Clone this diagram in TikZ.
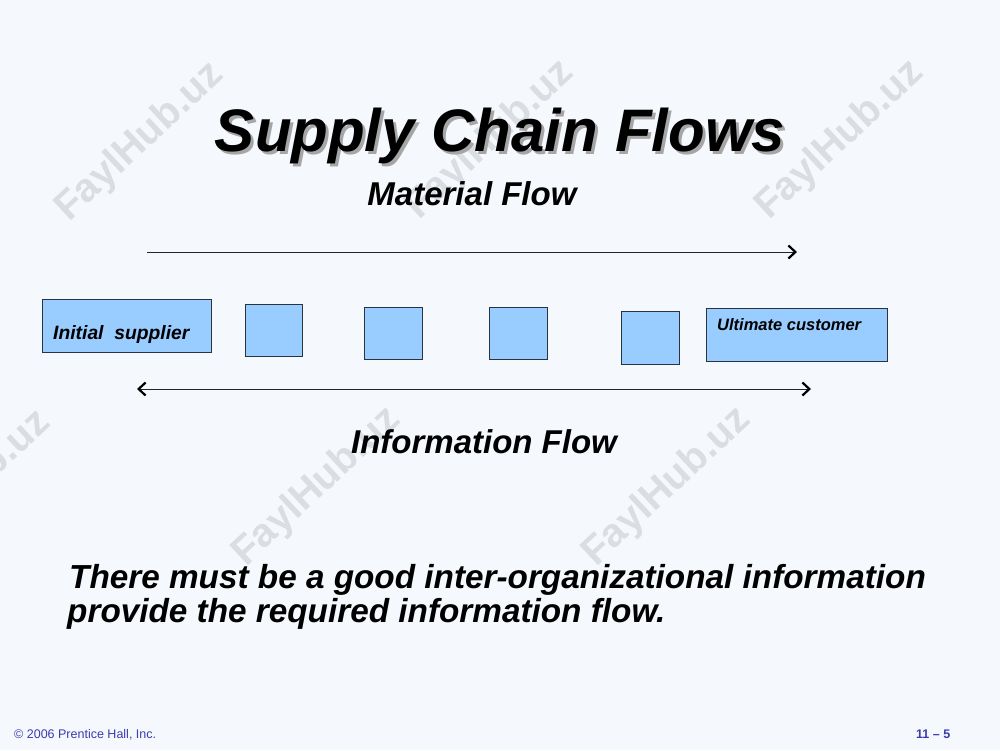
\documentclass[tikz,border=0pt]{standalone}
\usepackage{fontspec}
\setmainfont{Liberation Sans}
\usetikzlibrary{arrows.meta}
\definecolor{bgc}{HTML}{F5F9FD}
\definecolor{boxfill}{HTML}{99CCFF}
\definecolor{boxline}{HTML}{2A3440}
\definecolor{footc}{HTML}{3B3BB0}
\definecolor{wmc}{HTML}{DADEE2}
\tikzset{
  chev/.tip={Straight Barb[length=7pt, width=13pt, line width=2.2pt, color=black]},
  flowbox/.style={draw=boxline, line width=0.9pt, fill=boxfill},
  heading/.style={font=\fontsize{33}{40}\selectfont\bfseries\itshape, anchor=base, inner sep=0pt},
  bodytext/.style={font=\fontsize{33.3}{40}\selectfont\bfseries\itshape, anchor=base west, inner sep=0pt},
  flowline/.style={line width=1pt, draw=black!85},
  wmark/.style={font=\fontsize{40}{48}\selectfont\bfseries, text=wmc, rotate=43, inner sep=0pt},
  foot/.style={font=\fontsize{12.5}{15}\selectfont, text=footc, anchor=base west, inner sep=0pt}
}
\begin{document}
\begin{tikzpicture}[x=1pt,y=-1pt]
\fill[bgc] (0,0) rectangle (1000,750);
\useasboundingbox (0,0) rectangle (1000,750);

% watermarks
\foreach \wx/\wy [count=\i] in {140/142, 490/140, 840/140, -33/490, 317/487, 667/487}
  \node[wmark] (wm\i) at (\wx,\wy) {FaylHub.uz};

% title with shadow
\node[font=\fontsize{60}{70}\selectfont\bfseries\itshape, text=black!35, anchor=base, inner sep=0pt] (titleshadow) at (503,154) {Supply Chain Flows};
\node[font=\fontsize{60}{70}\selectfont\bfseries\itshape, anchor=base, inner sep=0pt] (title) at (500,151) {Supply Chain Flows};

\node[heading] (matflow) at (472,205) {Material Flow};
\node[heading] (infoflow) at (484,453) {Information Flow};

% boxes
\path[flowbox] (42,299) rectangle (211,352);
\node[font=\fontsize{19.3}{22}\selectfont\bfseries\itshape, anchor=base west, inner sep=0pt] (b1t) at (53,339) {Initial\ \ supplier};
\node[flowbox, minimum width=57pt, minimum height=52pt, inner sep=0pt] (b2) at (274,330) {};
\node[flowbox, minimum width=58pt, minimum height=52pt, inner sep=0pt] (b3) at (393,333) {};
\node[flowbox, minimum width=58pt, minimum height=52pt, inner sep=0pt] (b4) at (518,333) {};
\node[flowbox, minimum width=58pt, minimum height=53pt, inner sep=0pt] (b5) at (650,338) {};
\path[flowbox] (706,308) rectangle (887,361);
\node[font=\fontsize{16.5}{20}\selectfont\bfseries\itshape, anchor=base west, inner sep=0pt] (b6t) at (717,330) {Ultimate customer};

% flows
\coordinate (m1) at (147,252);
\coordinate (m2) at (797,252);
\draw[flowline, -{chev}] (m1) -- (m2);
\coordinate (i1) at (137,389);
\coordinate (i2) at (811,389);
\draw[flowline, {chev}-{chev}] (i1) -- (i2);

% body text
\node[bodytext] (line1) at (69,588) {There must be a good inter-organizational information};
\node[bodytext] (line2) at (67,622) {provide the required information flow.};

% footer
\node[foot] (copy) at (14,738) {© 2006 Prentice Hall, Inc.};
\node[foot, font=\fontsize{12.5}{15}\selectfont\bfseries] (pg) at (916,738) {11 – 5};
\end{tikzpicture}
\end{document}
